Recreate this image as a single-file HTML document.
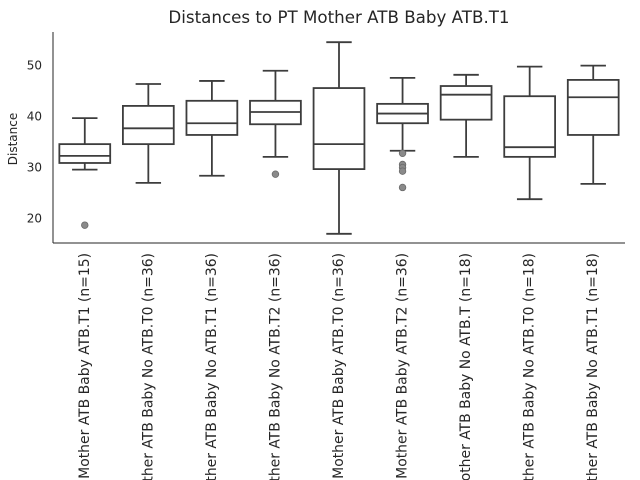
<!DOCTYPE html>
<html><head><meta charset="utf-8"><style>
body{margin:0;background:#fff}
svg{display:block;font-family:"DejaVu Sans","Liberation Sans",sans-serif}
</style></head><body>
<svg id="chart" width="640" height="480" viewBox="0 0 640 480">
<text id="title" x="339" y="23" text-anchor="middle" font-size="14.4" fill="#262626">Distances to PT Mother ATB Baby ATB.T1</text>
<text transform="translate(17,139) rotate(-90)" text-anchor="middle" font-size="12" fill="#262626">Distance</text>
<g id="plot"></g>
</svg>
<script>
const categories=["Mother ATB Baby ATB.T1 (n=15)","Mother ATB Baby No ATB.T0 (n=36)","Mother ATB Baby No ATB.T1 (n=36)","Mother ATB Baby No ATB.T2 (n=36)","Mother ATB Baby ATB.T0 (n=36)","Mother ATB Baby ATB.T2 (n=36)","Mother ATB Baby No ATB.T (n=18)","Mother ATB Baby No ATB.T0 (n=18)","Mother ATB Baby No ATB.T1 (n=18)"];
const whiskerLow=[29.5,26.9,28.3,32.0,16.9,33.2,32.0,23.7,26.7];
const q1=[30.8,34.5,36.3,38.4,29.6,38.6,39.3,32.0,36.3];
const median=[32.2,37.6,38.6,40.8,34.5,40.5,44.2,33.9,43.7];
const q3=[34.5,42.0,43.0,43.0,45.5,42.4,45.9,43.9,47.1];
const whiskerHigh=[39.6,46.3,46.9,48.9,54.5,47.5,48.1,49.7,49.9];
const outliers=[[18.6],[],[],[28.6],[],[32.7,30.5,29.9,29.2,26.0],[],[],[]];
const yTicks=[20,30,40,50];
const L=53,R=625,T=32,B=243,ymin=15.1,ymax=56.5;
const y=v=>B-(v-ymin)/(ymax-ymin)*(B-T);
const band=(R-L)/categories.length;
const x=i=>L+band*(i+0.5);
const ns="http://www.w3.org/2000/svg";
const g=document.getElementById('plot');
function mk(t,a){const e=document.createElementNS(ns,t);for(const k in a)e.setAttribute(k,a[k]);g.appendChild(e);return e;}
const col="#3d3d3d",sw=1.8,bw=band*0.8;
yTicks.forEach(t=>{
 const e=mk('text',{x:L-11,y:y(t)+4.5,'text-anchor':'end','font-size':12,fill:'#262626'});
 e.textContent=t;
 
 
});
const labels=[];
categories.forEach((c,i)=>{
 const cx=x(i);
 const w1=mk('line',{x1:cx,x2:cx,y1:y(q3[i]),y2:y(whiskerHigh[i]),stroke:col,'stroke-width':sw});
 
 
 const w2=mk('line',{x1:cx,x2:cx,y1:y(q1[i]),y2:y(whiskerLow[i]),stroke:col,'stroke-width':sw});
 
 
 [whiskerHigh[i],whiskerLow[i]].forEach(v=>{
  const cap=mk('line',{x1:cx-bw/4,x2:cx+bw/4,y1:y(v),y2:y(v),stroke:col,'stroke-width':sw});
  
  
 });
 const box=mk('rect',{x:cx-bw/2,y:y(q3[i]),width:bw,height:y(q1[i])-y(q3[i]),fill:'#fff',stroke:col,'stroke-width':sw});
 
 
 const md=mk('line',{x1:cx-bw/2,x2:cx+bw/2,y1:y(median[i]),y2:y(median[i]),stroke:col,'stroke-width':sw});
 
 
 outliers[i].forEach(v=>{
  const o=mk('circle',{cx:cx,cy:y(v),r:3.3,fill:'#8a8a8a',stroke:'#6a6a6a','stroke-width':0.8});
  
  
 });
 const lb=mk('text',{transform:`translate(${cx+4},253) rotate(-90)`,'text-anchor':'end','font-size':12,fill:'#262626'});
 lb.textContent=c;
 
 
 labels.push(lb);
});
try{
 const len=labels[0].getComputedTextLength();
 if(len>0){const fs=12*226/len;labels.forEach(l=>l.setAttribute('font-size',fs.toFixed(2)));}
 const tt=document.getElementById('title');const tl=tt.getComputedTextLength();
 if(tl>0)tt.setAttribute('font-size',(14.4*341/tl).toFixed(2));
}catch(e){}
const ax=mk('line',{x1:L,x2:L,y1:T,y2:B,stroke:'#262626','stroke-width':1});


const bx=mk('line',{x1:L,x2:R,y1:B,y2:B,stroke:'#262626','stroke-width':1});


</script>
</body></html>
